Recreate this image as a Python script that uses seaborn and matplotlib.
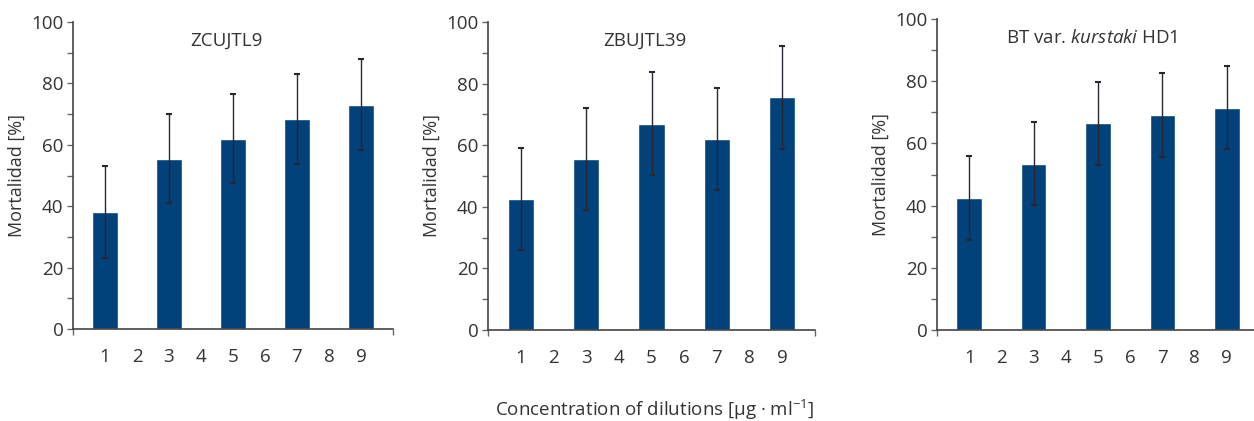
import matplotlib.pyplot as plt
import numpy as np
import pandas as pd
import seaborn as sns

# Data
dilutions = [1, 3, 5, 7, 9]
titles = ["ZCUJTL9", "ZBUJTL39", "BT var. $\\mathit{kurstaki}$ HD1"]
mortality = [
    [38, 55.5, 62, 68.5, 73],
    [42.5, 55.5, 67, 62, 75.5],
    [42.5, 53.5, 66.5, 69, 71.5],
]
errors = [
    [15, 14.5, 14.5, 14.7, 14.8],
    [16.5, 16.7, 16.7, 16.7, 16.7],
    [13.5, 13.4, 13.3, 13.5, 13.3],
]

sns.set_style("white")
plt.rcParams["font.family"] = ["Open Sans", "DejaVu Sans"]
plt.rcParams["mathtext.fontset"] = "custom"
plt.rcParams["mathtext.rm"] = "Open Sans"
plt.rcParams["mathtext.it"] = "Open Sans:italic"

bar_color = "#02427a"
text_color = "#333333"

fig = plt.figure(figsize=(12.54, 4.21), dpi=100)

# axes boxes in pixels: left, top (value 100), right (value 10), bottom (value 0)
boxes = [(73, 22, 393, 329), (488, 22, 815, 330), (937, 19, 1259, 330)]

for i, (l, t, r, b) in enumerate(boxes):
    ax = fig.add_axes([l / 1254, 1 - b / 421, (r - l) / 1254, (b - t) / 421])
    df = pd.DataFrame({"dilution": dilutions, "mortality": mortality[i]})
    sns.barplot(data=df, x="dilution", y="mortality", native_scale=True,
                color=bar_color, saturation=1, width=0.4, errorbar=None, ax=ax)
    ax.errorbar(dilutions, mortality[i], yerr=errors[i], fmt="none",
                ecolor="#2a2533", elinewidth=1, capsize=2, capthick=1.5)

    ax.set_xlim(0, 10)
    ax.set_ylim(0, 100)
    ax.set_xticks(np.arange(1, 10))
    ax.set_xticklabels([str(k) for k in range(1, 10)])
    ax.set_xticks(np.arange(0, 11, 2), minor=True)
    ax.set_yticks(np.arange(0, 101, 20))
    ax.set_yticks(np.arange(10, 100, 20), minor=True)
    ax.tick_params(axis="x", which="major", length=0, pad=14,
                   labelsize=13.5, labelcolor=text_color)
    ax.tick_params(axis="x", which="minor", length=4, width=1,
                   color="#666666", bottom=True)
    ax.tick_params(axis="y", which="both", length=4, width=1,
                   color="#666666", left=True, labelsize=13.5,
                   labelcolor=text_color, pad=3)
    sns.despine(ax=ax)
    for side in ["left", "bottom"]:
        ax.spines[side].set_color("#444444")
        ax.spines[side].set_linewidth(1.2)
    ax.set_xlabel("")
    ax.set_ylabel("Mortalidad [%]", fontsize=13, color=text_color, labelpad=4)
    ax.text(4.8, 94, titles[i], ha="center", va="center",
            fontsize=13.5, color=text_color)

fig.text(655 / 1254, 1 - 410 / 421,
         "Concentration of dilutions [µg · ml$^{-1}$]",
         ha="center", va="center", fontsize=13.5, color=text_color)

fig.savefig("out.png", dpi=100)
